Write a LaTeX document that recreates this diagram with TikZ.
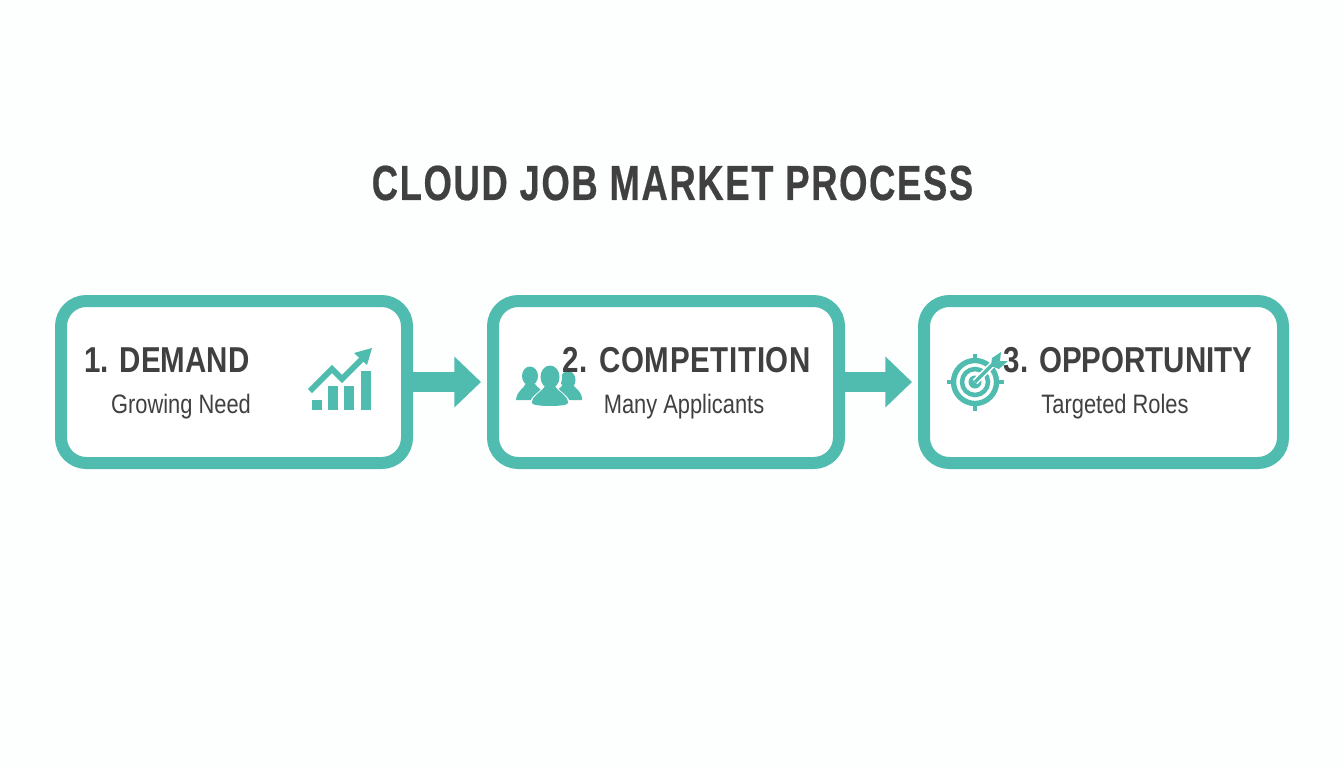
\documentclass[tikz,border=0pt]{standalone}
\usepackage{fontspec}
\setmainfont[FakeStretch=0.82]{Liberation Sans}
\newfontfamily\titlefont[FakeStretch=0.74,LetterSpace=3.2,BoldFeatures={FakeBold=0.4}]{Liberation Sans}
\newfontfamily\widehead[FakeStretch=0.82,LetterSpace=1.8]{Liberation Sans}
\usetikzlibrary{arrows.meta}
\definecolor{teal1}{HTML}{50BCAF}
\definecolor{ink}{HTML}{404040}
\tikzset{
  card/.style={draw=teal1,line width=9pt,rounded corners=19pt,fill=white,inner sep=0pt,outer sep=4.5pt,minimum width=259.5pt,minimum height=121.5pt,anchor=center},
  flow/.style={draw=teal1,line width=15pt,-{Triangle[length=20pt,width=37pt]},shorten >=4.5pt},
  head/.style={font=\fontsize{27}{30}\selectfont\bfseries,text=ink,inner sep=0pt},
  sub/.style={font=\fontsize{20}{23}\selectfont,text=ink,inner sep=0pt},
  ttl/.style={font=\titlefont\fontsize{37}{42}\selectfont\bfseries,text=ink,inner sep=0pt},
  ic/.style={fill=teal1,draw=none},
  icl/.style={draw=teal1,fill=none}
}
\begin{document}
\begin{tikzpicture}[x=0.75pt,y=-0.75pt]
\fill[white!99!teal1] (0,0) rectangle (1344,768);
\useasboundingbox (0,0) rectangle (1344,768);
\node[ttl] (title) at (672.5,183) {CLOUD JOB MARKET PROCESS};
\node[card] (c1) at (234,382) {};
\node[card] (c2) at (666,382) {};
\node[card,minimum width=269.25pt] (c3) at (1103.5,382) {};
\draw[flow] (c1.east) -- (c2.west);
\draw[flow] (c2.east) -- (c3.west);
% chart icon
\fill[ic] (312,400) rectangle (322,410);
\fill[ic] (328,386) rectangle (338,410);
\fill[ic] (344,386) rectangle (354,410);
\fill[ic] (361,371) rectangle (371,410);
\draw[teal1,line width=4.4pt,miter limit=10] (310,391) -- (332,369) -- (342,379) -- (362,359);
\fill[ic] (372,348) -- (354,353) -- (367,365) -- cycle;
% people icon
\fill[ic] (530,376) ellipse (8 and 9.5);
\fill[ic] (516,400) .. controls (517,390) and (524,389) .. (526,383) -- (534,383) .. controls (538,389) and (546,391) .. (546,400) -- cycle;
\fill[ic] (568,380) ellipse (7.5 and 9);
\fill[ic] (552,400) .. controls (552,391) and (560,389) .. (564,384) -- (572,384) .. controls (576,389) and (582,391) .. (582,400) -- cycle;
\fill[white] (550,377) ellipse (12 and 14);
\fill[white] (529,408) .. controls (529,396) and (538,394) .. (543,387) -- (557,387) .. controls (562,394) and (571,396) .. (571,408) -- cycle;
\fill[ic] (550,377) ellipse (9.5 and 11.5);
\fill[ic] (532,403) .. controls (532,395) and (541,393) .. (545,386) -- (555,386) .. controls (559,393) and (568,395) .. (568,403) .. controls (568,407) and (532,407) .. (532,403) -- cycle;
% target icon
\draw[icl,line width=4pt] (975,382) circle (21.5);
\draw[icl,line width=3.4pt] (975,382) circle (13);
\fill[ic] (975,382) circle (6.5);
\draw[teal1,line width=2.8pt] (947,382) -- (955,382) (995,382) -- (1004,382) (975,354) -- (975,362) (975,402) -- (975,411);
\draw[white,line width=5pt] (975,382) -- (994,363);
\draw[teal1,line width=2.6pt] (975,382) -- (996,361);
\fill[ic] (991,366) -- (992,358) -- (1001,352) -- (1000,361) -- cycle;
\fill[ic] (991,366) -- (1000,361) -- (1008,361) -- (999,369) -- cycle;
% labels
\node[head] (h1) at (167,360) {1. DEMAND};
\node[sub] (s1) at (181,407) {Growing Need};
\node[head,font=\widehead\fontsize{27}{30}\selectfont\bfseries] (h2) at (686.5,360) {2. COMPETITION};
\node[sub] (s2) at (684,407) {Many Applicants};
\node[head] (h3) at (1128,360) {3. OPPORTUNITY};
\node[sub] (s3) at (1115,407) {Targeted Roles};
\end{tikzpicture}
\end{document}
